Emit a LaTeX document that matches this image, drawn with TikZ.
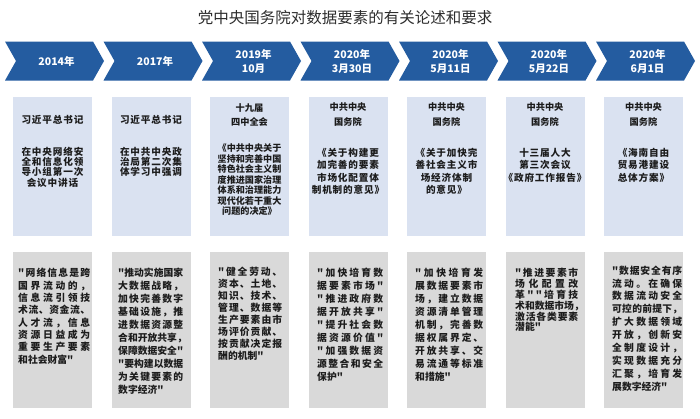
\documentclass[tikz,border=0pt]{standalone}
\usepackage{fontspec}
\newfontfamily\cjk{Noto Sans CJK SC}
\newfontfamily\cjksp[LetterSpace=9]{Noto Sans CJK SC}
\newlength\jw
\makeatletter
\def\jl#1{\makebox[\jw][s]{\jl@a#1\jl@end}}
\def\jl@a#1#2\jl@end{#1\ifx\relax#2\relax\else\hfill\jl@a#2\jl@end\fi}
\makeatother
\definecolor{chev}{RGB}{36,92,160}
\definecolor{topfill}{RGB}{218,226,241}
\definecolor{botfill}{RGB}{217,217,217}
\definecolor{txt}{RGB}{28,28,28}
\definecolor{ttl}{RGB}{45,45,45}
\tikzset{
 chevtxt/.style={text=white, font=\cjk\bfseries\fontsize{10.5}{14}\selectfont, align=center, inner sep=0pt},
 topbox/.style={fill=topfill, draw=none, minimum width=79pt, minimum height=139pt, inner sep=0pt},
 botbox/.style={fill=botfill, draw=none, minimum width=79pt, minimum height=156pt, inner sep=0pt},
 hdr/.style={text=txt, font=\cjk\bfseries\fontsize{9.2}{#1}\selectfont, align=center, inner sep=0pt, anchor=north},
 tbody/.style={text=txt, font=\cjksp\bfseries\fontsize{9.6}{#1}\selectfont, align=center, inner sep=0pt, anchor=north},
 bbody/.style 2 args={text=txt, font=\cjk\bfseries\fontsize{9.8}{#1}\selectfont, align=left, inner sep=0pt, anchor=north west, execute at begin node={\setlength\jw{#2}}},
}
\begin{document}
\begin{tikzpicture}[x=1pt,y=-1pt]
\useasboundingbox (0,0) rectangle (700,418);
\fill[white] (0,0) rectangle (700,418);
% title
\node[text=ttl, font=\cjk\fontsize{15.5}{18}\selectfont, inner sep=0pt] (title) at (345,18) {党中央国务院对数据要素的有关论述和要求};
% chevrons
\foreach \L in {5,103.5,202,300.5,399,497.5,596}{
  \fill[chev] (\L,41.5) -- (\L+88,41.5) -- (\L+99,61) -- (\L+88,80.5) -- (\L,80.5) -- (\L+11,61) -- cycle;
}
\node[chevtxt] (c1) at (56.5,61) {2014年};
\node[chevtxt] (c2) at (155,61) {2017年};
\node[chevtxt] (c3) at (253.5,61) {2019年\\10月};
\node[chevtxt] (c4) at (352,61) {2020年\\3月30日};
\node[chevtxt] (c5) at (450.5,61) {2020年\\5月11日};
\node[chevtxt] (c6) at (549,61) {2020年\\5月22日};
\node[chevtxt] (c7) at (647.5,61) {2020年\\6月1日};
% top boxes
\node[topbox] (t1) at (52.5,166.5) {};
\node[topbox] (t2) at (151,166.5) {};
\node[topbox] (t3) at (249.5,166.5) {};
\node[topbox] (t4) at (348,166.5) {};
\node[topbox] (t5) at (446.5,166.5) {};
\node[topbox] (t6) at (545,166.5) {};
\node[topbox] (t7) at (643.5,166.5) {};
% bottom boxes
\node[botbox] (b1) at (52.5,330) {};
\node[botbox] (b2) at (151,330) {};
\node[botbox] (b3) at (249.5,330) {};
\node[botbox] (b4) at (348,330) {};
\node[botbox] (b5) at (446.5,330) {};
\node[botbox] (b6) at (545,330) {};
\node[botbox] (b7) at (643.5,330) {};
% top texts
\node[tbody=14] (h1) at (52.5,114.6) {习近平总书记};
\node[tbody=10.4] (tb1) at (52.5,146.6) {在中央网络安\\全和信息化领\\导小组第一次\\会议中讲话};
\node[tbody=14] (h2) at (151,114.6) {习近平总书记};
\node[tbody=10.4] (tb2) at (151,146.6) {在中共中央政\\治局第二次集\\体学习中强调};
\node[hdr=13.5] (h3) at (249.5,103.8) {十九届\\四中全会};
\node[text=txt, font=\cjk\bfseries\fontsize{9.1}{10.5}\selectfont, align=center, inner sep=0pt, anchor=north] (tb3) at (249.5,143.9) {《中共中央关于\\坚持和完善中国\\特色社会主义制\\度推进国家治理\\体系和治理能力\\现代化若干重大\\问题的决定》};
\node[hdr=15] (h4) at (348,102.8) {中共中央\\国务院};
\node[tbody=12.6] (tb4) at (348,147.6) {《关于构建更\\加完善的要素\\市场化配置体\\制机制的意见》};
\node[hdr=15] (h5) at (446.5,102.8) {中共中央\\国务院};
\node[tbody=12.6] (tb5) at (446.5,147.6) {《关于加快完\\善社会主义市\\场经济体制\\的意见》};
\node[hdr=15] (h6) at (545,102.8) {中共中央\\国务院};
\node[tbody=12.6] (tb6) at (545,147.6) {十三届人大\\第三次会议\\《政府工作报告》};
\node[hdr=15] (h7) at (643.5,102.8) {中共中央\\国务院};
\node[tbody=12.6] (tb7) at (643.5,147.6) {《海南自由\\贸易港建设\\总体方案》};
% bottom texts
\node[bbody={12.3}{72pt}] (bt1) at (18,268.2) {\jl{"网络信息是跨}\\\jl{国界流动的，}\\\jl{信息流引领技}\\\jl{术流、资金流、}\\\jl{人才流，信息}\\\jl{资源日益成为}\\\jl{重要生产要素}\\和社会财富"};
\node[bbody={13}{65pt}] (bt2) at (118,268.2) {\jl{"推动实施国家}\\\jl{大数据战略，}\\\jl{加快完善数字}\\\jl{基础设施，推}\\\jl{进数据资源整}\\\jl{合和开放共享，}\\\jl{保障数据安全"}\\\jl{"要构建以数据}\\\jl{为关键要素的}\\数字经济"};
\node[bbody={12}{64pt}] (bt3) at (218,266.5) {\jl{"健全劳动、}\\\jl{资本、土地、}\\\jl{知识、技术、}\\\jl{管理、数据等}\\\jl{生产要素由市}\\\jl{场评价贡献、}\\\jl{按贡献决定报}\\酬的机制"};
\node[bbody={13}{66pt}] (bt4) at (317,268.2) {\jl{"加快培育数}\\\jl{据要素市场"}\\\jl{"推进政府数}\\\jl{据开放共享"}\\\jl{"提升社会数}\\\jl{据资源价值"}\\\jl{"加强数据资}\\\jl{源整合和安全}\\保护"};
\node[bbody={13}{68pt}] (bt5) at (415,268.2) {\jl{"加快培育发}\\\jl{展数据要素市}\\\jl{场，建立数据}\\\jl{资源清单管理}\\\jl{机制，完善数}\\\jl{据权属界定、}\\\jl{开放共享、交}\\\jl{易流通等标准}\\和措施"};
\node[bbody={10.8}{63pt}] (bt6) at (515,268.2) {\jl{"推进要素市}\\\jl{场化配置改}\\\jl{革""培育技}\\\jl{术和数据市场，}\\\jl{激活各类要素}\\潜能"};
\node[bbody={12.9}{70pt}] (bt7) at (612,265.5) {\jl{"数据安全有序}\\\jl{流动。在确保}\\\jl{数据流动安全}\\\jl{可控的前提下，}\\\jl{扩大数据领域}\\\jl{开放，创新安}\\\jl{全制度设计，}\\\jl{实现数据充分}\\\jl{汇聚，培育发}\\展数字经济"};
\end{tikzpicture}
\end{document}
